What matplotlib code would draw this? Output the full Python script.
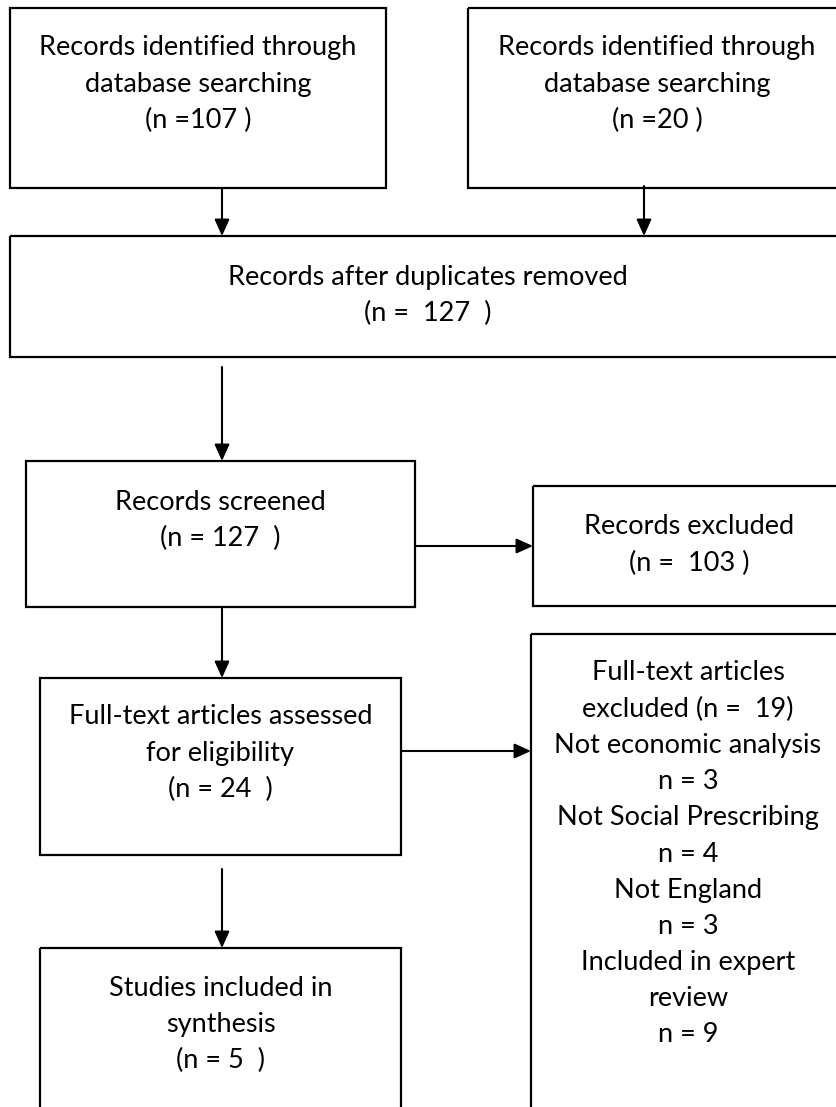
import matplotlib.pyplot as plt
from matplotlib.patches import Rectangle

plt.rcParams['font.family'] = ['Lato', 'DejaVu Sans']

# counts at each stage
n_db1 = 107
n_db2 = 20
n_dedup = 127
n_screened = 127
n_excluded = 103
n_fulltext = 24
n_ft_excluded = 19
reasons = ['Not economic analysis', 'Not Social Prescribing', 'Not England', 'Included in expert\nreview']
reason_n = [3, 4, 3, 9]
n_included = 5

box_text = [
    'Records identified through\ndatabase searching\n(n =%d )' % n_db1,
    'Records identified through\ndatabase searching\n(n =%d )' % n_db2,
    'Records after duplicates removed\n(n =  %d  )' % n_dedup,
    'Records screened\n(n = %d  )' % n_screened,
    'Records excluded\n(n =  %d )' % n_excluded,
    'Full-text articles assessed\nfor eligibility\n(n = %d  )' % n_fulltext,
    'Full-text articles\nexcluded (n =  %d)\n' % n_ft_excluded
    + '\n'.join('%s\nn = %d' % (r, k) for r, k in zip(reasons, reason_n)),
    'Studies included in\nsynthesis\n(n = %d  )' % n_included,
]

# box geometry in pixels: x0, y0, x1, y1, first text line centre y
boxes = [
    (10, 8, 386, 188, 48),
    (468, 8, 846, 188, 48),
    (10, 236, 846, 357, 277),
    (26, 461, 415, 607, 502),
    (533, 486, 846, 606, 527),
    (40, 678, 401, 855, 717),
    (531, 634, 845, 1130, 673),
    (40, 948, 401, 1130, 988),
]
line_gap = 36.2

arrows = [
    ((222, 188), (222, 236)),
    ((644, 186), (644, 236)),
    ((222, 367), (222, 461)),
    ((222, 607), (222, 678)),
    ((222, 869), (222, 948)),
    ((415, 546), (533, 546)),
    ((401, 751), (531, 751)),
]

fig = plt.figure(figsize=(8.36, 11.07), dpi=100)
ax = fig.add_axes([0, 0, 1, 1])
ax.set_xlim(0, 836)
ax.set_ylim(1107, 0)
ax.axis('off')

for (x0, y0, x1, y1, ty), txt in zip(boxes, box_text):
    ax.add_patch(Rectangle((x0, y0), x1 - x0, y1 - y0, fill=False,
                           edgecolor='black', linewidth=1.6, joinstyle='miter'))
    cx = (x0 + x1) / 2
    for i, line in enumerate(txt.split('\n')):
        ax.text(cx, ty + i * line_gap, line, ha='center', va='center',
                fontsize=19.5, color='black')

for start, end in arrows:
    ax.annotate('', xy=end, xytext=start,
                arrowprops=dict(arrowstyle='-|>,head_length=1.0,head_width=0.45',
                                color='black', lw=1.5, shrinkA=0, shrinkB=0))

plt.savefig('out.png', dpi=100)
